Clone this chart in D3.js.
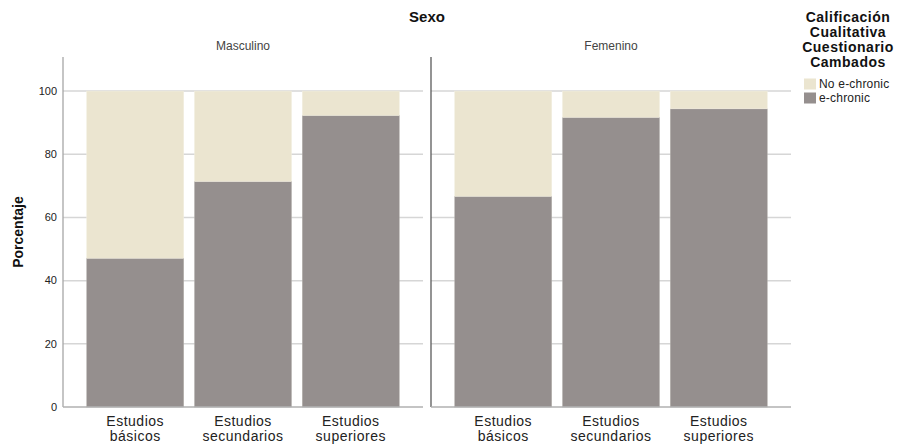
<!DOCTYPE html>
<html><head><meta charset="utf-8">
<script src="https://cdn.jsdelivr.net/npm/d3@7"></script>
<style>body{margin:0;background:#fff}svg{font-family:"Liberation Sans",Arial,sans-serif}</style>
</head><body><svg id="c" width="898" height="444"></svg>
<script>
const panels = ["Masculino", "Femenino"];
const categories = ["Estudios básicos", "Estudios secundarios", "Estudios superiores"];
const categoryLines = [["Estudios","básicos"],["Estudios","secundarios"],["Estudios","superiores"]];
const seriesNames = ["No e-chronic", "e-chronic"];
const echronicMasculino = [47.1, 71.4, 92.3];
const echronicFemenino = [66.7, 91.7, 94.4];
const yTicks = [0, 20, 40, 60, 80, 100];
const colors = {"No e-chronic": "#ebe5d0", "e-chronic": "#958f8e"};

const svg = d3.select("#c");
const y = d3.scaleLinear().domain([0, 110.8]).range([407, 57]);
const panelX = d3.scaleBand().domain(panels).range([63, 791]).paddingInner(8 / 368).paddingOuter(0);
const values = {Masculino: echronicMasculino, Femenino: echronicFemenino};

panels.forEach((p, pi) => {
  const x0 = panelX(p), x1 = x0 + panelX.bandwidth();
  const x = d3.scaleBand().domain(categories).range([x0, x1]).paddingInner(0.1).paddingOuter(0.22);
  const g = svg.append("g");
  g.selectAll("line.grid").data(yTicks.filter(t => t > 0)).join("line")
    .attr("x1", x0).attr("x2", x1).attr("y1", d => y(d)).attr("y2", d => y(d))
    .attr("stroke", "#d6d6d6").attr("stroke-width", 1.5);
  const data = categories.map((c, i) => ({c, v: values[p][i]}));
  g.selectAll("rect.bottom").data(data).join("rect")
    .attr("x", d => x(d.c)).attr("width", x.bandwidth())
    .attr("y", d => y(d.v)).attr("height", d => y(0) - y(d.v))
    .attr("fill", colors["e-chronic"]).attr("stroke", "#b5b1ae").attr("stroke-width", 0.5);
  g.selectAll("rect.top").data(data).join("rect")
    .attr("x", d => x(d.c)).attr("width", x.bandwidth())
    .attr("y", y(100)).attr("height", d => y(d.v) - y(100))
    .attr("fill", colors["No e-chronic"]).attr("stroke", "#f2eedf").attr("stroke-width", 0.5);
  g.append("line").attr("x1", x0).attr("x2", x0).attr("y1", 57).attr("y2", y(0))
    .attr("stroke", pi === 0 ? "#a6a6a6" : "#5a5a5a").attr("stroke-width", 1.3);
  g.append("line").attr("x1", x0).attr("x2", x1).attr("y1", y(0)).attr("y2", y(0))
    .attr("stroke", "#b0b0b0").attr("stroke-width", 1.5);
  g.append("text").attr("x", (x0 + x1) / 2).attr("y", 50).attr("text-anchor", "middle")
    .attr("font-size", 12).attr("fill", "#444").text(p);
  categories.forEach((c, i) => {
    const t = g.append("text").attr("text-anchor", "middle").attr("font-size", 14)
      .attr("fill", "#222").attr("letter-spacing", 0.5);
    categoryLines[i].forEach((ln, j) => {
      t.append("tspan").attr("x", x(c) + x.bandwidth() / 2).attr("y", 426 + j * 14.8).text(ln);
    });
  });
});

svg.append("g").selectAll("text").data(yTicks).join("text")
  .attr("x", 57).attr("y", d => y(d)).attr("dy", "0.35em").attr("text-anchor", "end")
  .attr("font-size", 11).attr("fill", "#222").text(d => d);

svg.append("text").attr("transform", "translate(23,232) rotate(-90)").attr("text-anchor", "middle")
  .attr("font-size", 14).attr("font-weight", "bold").attr("fill", "#111").text("Porcentaje");

svg.append("text").attr("x", 427).attr("y", 22).attr("text-anchor", "middle")
  .attr("font-size", 15).attr("font-weight", "bold").attr("fill", "#111").text("Sexo");

const legTitle = ["Calificación", "Cualitativa", "Cuestionario", "Cambados"];
svg.append("g").selectAll("text").data(legTitle).join("text")
  .attr("x", 848).attr("y", (d, i) => 21.5 + i * 15.2).attr("text-anchor", "middle")
  .attr("font-size", 14).attr("font-weight", "bold").attr("letter-spacing", 0.5)
  .attr("fill", "#111").text(d => d);
const leg = svg.append("g").selectAll("g").data(seriesNames).join("g")
  .attr("transform", (d, i) => `translate(804,${78.5 + i * 14})`);
leg.append("rect").attr("width", 12).attr("height", 11).attr("fill", d => colors[d]);
leg.append("text").attr("x", 15).attr("y", 9.8).attr("font-size", 12).attr("letter-spacing", 0.2)
  .attr("fill", "#222").text(d => d);
</script></body></html>
